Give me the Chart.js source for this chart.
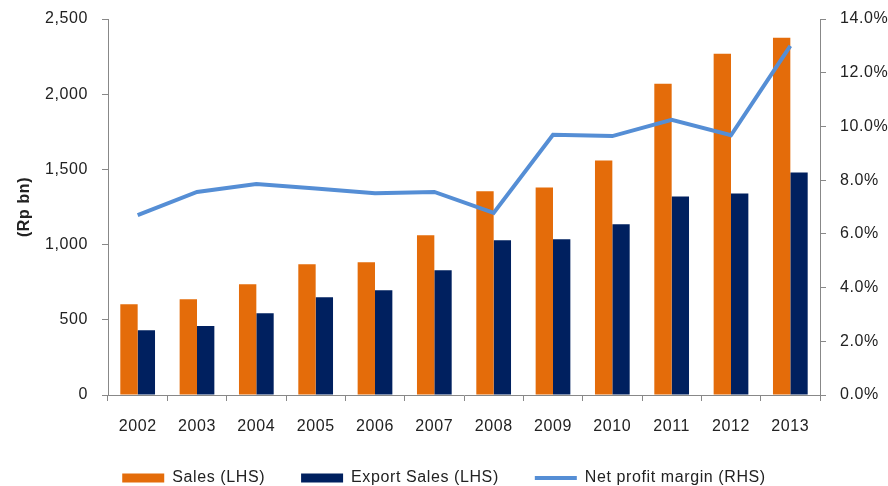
<!DOCTYPE html>
<html>
<head>
<meta charset="utf-8">
<script src="https://cdn.jsdelivr.net/npm/chart.js@4/dist/chart.umd.min.js"></script>
<style>
  html, body { margin: 0; padding: 0; overflow: hidden; background: #fff; }
  #wrap { position: relative; width: 888px; height: 496px; }
</style>
</head>
<body>
<div id="wrap"><canvas id="myChart"></canvas></div>
<script>
const years = ["2002", "2003", "2004", "2005", "2006", "2007", "2008", "2009", "2010", "2011", "2012", "2013"];
const sales = [604, 637, 737, 869, 883, 1062, 1354, 1380, 1559, 2070, 2269, 2376];
const exportSales = [431, 458, 544, 650, 697, 829, 1029, 1035, 1135, 1320, 1340, 1480];
const netMargin = [6.7, 7.56, 7.86, 7.69, 7.51, 7.56, 6.78, 9.69, 9.64, 10.25, 9.67, 13.0];

const leftTicks = [0, 500, 1000, 1500, 2000, 2500];
const rightTicks = [0, 2, 4, 6, 8, 10, 12, 14];

const axisGray = "#888888";
const textColor = "#222222";
const font = { family: "'Liberation Sans', Arial, sans-serif", size: 16 };

// slightly wider text, closer to the old GDI look
const spacing = {
  id: "spacing",
  beforeUpdate(chart) {
    chart.ctx.letterSpacing = "0.6px";
  },
  beforeDraw(chart) {
    chart.ctx.letterSpacing = "0.6px";
  },
};

const myChartUi = document.querySelector("#myChart");

const chart = new Chart(myChartUi, {
  type: "bar",
  data: {
    labels: years,
    datasets: [
      {
        label: "Sales (LHS)",
        data: sales,
        backgroundColor: "#E46C0A",
        yAxisID: "y",
        order: 1,
        categoryPercentage: 0.585,
        barPercentage: 1,
      },
      {
        label: "Export Sales (LHS)",
        data: exportSales,
        backgroundColor: "#00205F",
        yAxisID: "y",
        order: 1,
        categoryPercentage: 0.585,
        barPercentage: 1,
      },
      {
        type: "line",
        label: "Net profit margin (RHS)",
        data: netMargin,
        borderColor: "#558ED5",
        backgroundColor: "#558ED5",
        borderWidth: 4,
        pointRadius: 0,
        tension: 0,
        yAxisID: "y1",
        order: 0,
      },
    ],
  },
  options: {
    responsive: true,
    maintainAspectRatio: false,
    animation: false,
    layout: { padding: { top: 19, left: 0, right: 0, bottom: 0 } },
    plugins: {
      tooltip: { enabled: false },
      legend: {
        position: "bottom",
        labels: {
          color: textColor,
          font: font,
          padding: 36,
          usePointStyle: true,
          pointStyleWidth: 42,
          boxWidth: 42,
          boxHeight: 9,
          generateLabels(chart) {
            const items = Chart.defaults.plugins.legend.labels.generateLabels(chart);
            items.sort((a, b) => a.datasetIndex - b.datasetIndex);
            items.forEach((item) => {
              const ds = chart.data.datasets[item.datasetIndex];
              if (ds.type === "line") {
                item.pointStyle = "line";
                item.strokeStyle = ds.borderColor;
                item.lineWidth = 4;
                item.lineCap = "butt";
              } else {
                item.pointStyle = "rect";
                item.fillStyle = ds.backgroundColor;
                item.lineWidth = 0;
              }
            });
            return items;
          },
        },
      },
    },
    scales: {
      x: {
        grid: {
          display: true,
          drawOnChartArea: false,
          color: axisGray,
          tickLength: 6,
        },
        border: { color: axisGray },
        ticks: { color: textColor, font: font, padding: 16, maxRotation: 0 },
        afterFit(scale) {
          scale.height = 39;
        },
      },
      y: {
        position: "left",
        min: 0,
        max: 2500,
        afterBuildTicks(scale) {
          scale.ticks = leftTicks.map((v) => ({ value: v }));
        },
        grid: {
          display: true,
          drawOnChartArea: false,
          color: axisGray,
          tickLength: 6,
        },
        border: { color: axisGray },
        ticks: {
          color: textColor,
          font: font,
          padding: 14,
          callback: (v) => v.toLocaleString("en-US"),
        },
        title: {
          display: true,
          text: "(Rp bn)",
          color: textColor,
          font: { family: font.family, size: 16, weight: "bold" },
          padding: { top: 15, bottom: 0 },
        },
        afterFit(scale) {
          scale.width = 108;
          scale.paddingTop = 0;
          scale.paddingBottom = 0;
        },
      },
      y1: {
        position: "right",
        min: 0,
        max: 14,
        afterBuildTicks(scale) {
          scale.ticks = rightTicks.map((v) => ({ value: v }));
        },
        grid: {
          display: true,
          drawOnChartArea: false,
          color: axisGray,
          tickLength: 6,
        },
        border: { color: axisGray },
        ticks: {
          color: textColor,
          font: font,
          padding: 14,
          callback: (v) => v.toFixed(1) + "%",
        },
        afterFit(scale) {
          scale.width = 68;
          scale.paddingTop = 0;
          scale.paddingBottom = 0;
        },
      },
    },
  },
  plugins: [spacing],
});
</script>
</body>
</html>
